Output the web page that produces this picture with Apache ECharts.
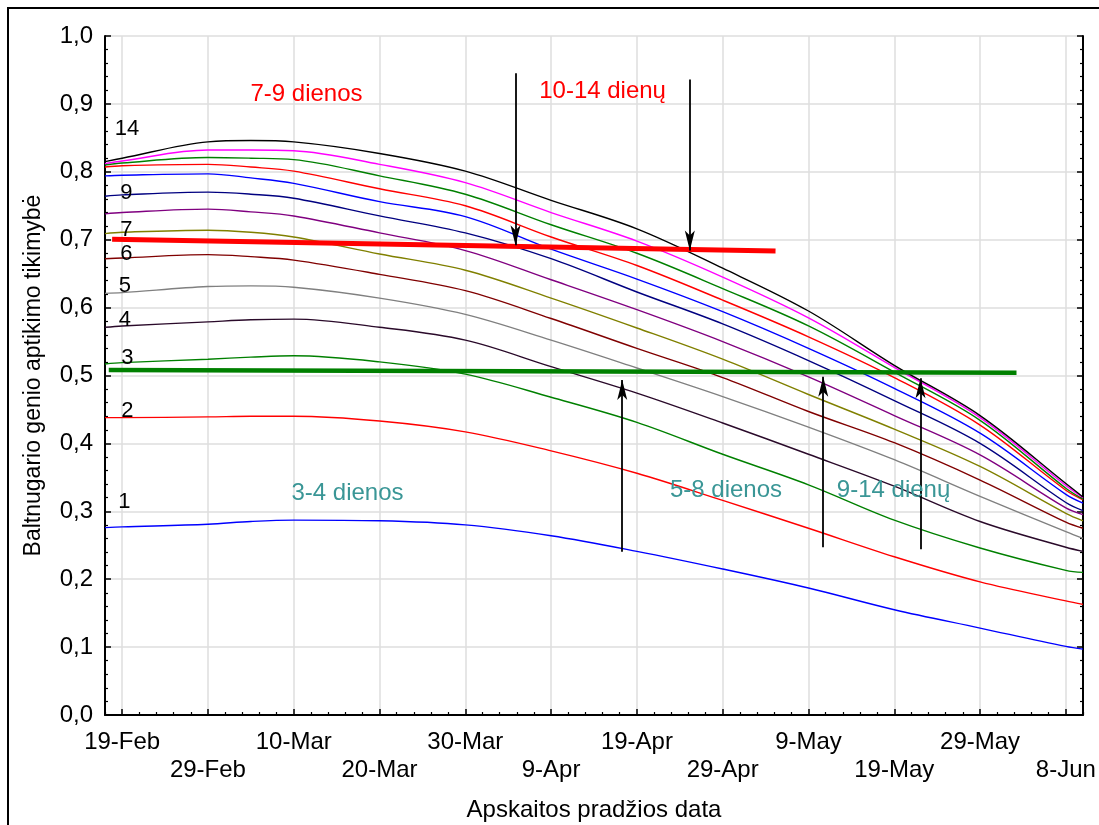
<!DOCTYPE html>
<html>
<head>
<meta charset="utf-8">
<style>
  html, body { margin: 0; padding: 0; background: #ffffff; }
  #chart { width: 1099px; height: 825px; }
</style>
<script src="https://cdn.jsdelivr.net/npm/echarts@6/dist/echarts.min.js"></script>
</head>
<body>
<div id="chart"></div>
<script>
// ---- data -------------------------------------------------------------
// Dates at which every curve is sampled
const sampleDates = ['2008-02-17', '2008-02-19', '2008-02-29', '2008-03-05', '2008-03-10',
  '2008-03-20', '2008-03-30', '2008-04-09', '2008-04-19', '2008-04-29', '2008-05-09',
  '2008-05-19', '2008-05-29', '2008-06-08', '2008-06-10'];

// Detection probability for survey lengths of 1 ... 14 days
const days1  = [0.276, 0.277, 0.281, 0.285, 0.287, 0.286, 0.280, 0.264, 0.241, 0.215, 0.187, 0.155, 0.128, 0.101, 0.097];
const days2  = [0.438, 0.438, 0.439, 0.440, 0.440, 0.433, 0.417, 0.389, 0.356, 0.316, 0.275, 0.233, 0.196, 0.168, 0.163];
const days3  = [0.517, 0.519, 0.524, 0.527, 0.529, 0.520, 0.502, 0.468, 0.431, 0.384, 0.339, 0.287, 0.246, 0.213, 0.210];
const days4  = [0.571, 0.573, 0.579, 0.582, 0.583, 0.571, 0.552, 0.513, 0.474, 0.430, 0.384, 0.337, 0.285, 0.247, 0.241];
const days5  = [0.621, 0.622, 0.631, 0.632, 0.630, 0.614, 0.590, 0.552, 0.511, 0.469, 0.424, 0.376, 0.322, 0.270, 0.260];
const days6  = [0.672, 0.673, 0.678, 0.675, 0.670, 0.649, 0.625, 0.584, 0.540, 0.497, 0.447, 0.401, 0.346, 0.284, 0.275];
const days7  = [0.709, 0.711, 0.714, 0.711, 0.704, 0.679, 0.655, 0.614, 0.570, 0.524, 0.472, 0.421, 0.366, 0.297, 0.286];
const days8  = [0.738, 0.740, 0.745, 0.741, 0.735, 0.710, 0.684, 0.641, 0.597, 0.550, 0.498, 0.441, 0.383, 0.305, 0.295];
const days9  = [0.764, 0.766, 0.770, 0.767, 0.761, 0.735, 0.710, 0.672, 0.623, 0.576, 0.522, 0.463, 0.400, 0.313, 0.301];
const days10 = [0.794, 0.795, 0.797, 0.791, 0.783, 0.756, 0.734, 0.686, 0.642, 0.594, 0.540, 0.481, 0.415, 0.325, 0.312];
const days11 = [0.807, 0.809, 0.811, 0.807, 0.801, 0.775, 0.750, 0.704, 0.662, 0.611, 0.557, 0.497, 0.427, 0.331, 0.317];
const days12 = [0.810, 0.813, 0.821, 0.820, 0.818, 0.794, 0.767, 0.722, 0.680, 0.628, 0.573, 0.505, 0.434, 0.334, 0.318];
const days13 = [0.812, 0.816, 0.832, 0.832, 0.831, 0.811, 0.784, 0.740, 0.698, 0.645, 0.585, 0.512, 0.438, 0.338, 0.320];
const days14 = [0.815, 0.820, 0.844, 0.846, 0.844, 0.827, 0.801, 0.758, 0.716, 0.658, 0.595, 0.515, 0.441, 0.341, 0.321];

// Threshold lines: [day offset from 19-Feb, probability] at both ends
const threshold70 = [[-1.17, 0.7006], [76.16, 0.6834]];
const threshold50 = [[-1.56, 0.5080], [104.25, 0.5042]];

// Arrows: start and tip, [day offset from 19-Feb, probability]
const arrowsDown = [
  [[45.85, 0.945], [45.85, 0.692]],
  [[66.17, 0.936], [66.17, 0.684]]
];
const arrowsUp = [
  [[58.29, 0.2405], [58.29, 0.4934]],
  [[81.72, 0.247], [81.72, 0.4983]],
  [[93.06, 0.244], [93.06, 0.4960]]
];

// Axis tick labels, every 10 days from 19-Feb
const tickLabels = ['19-Feb', '29-Feb', '10-Mar', '20-Mar', '30-Mar', '9-Apr',
  '19-Apr', '29-Apr', '9-May', '19-May', '29-May', '8-Jun'];

// Period notes and curve numbers: [day offset, probability, text]
const periodNotes = [
  [21.49, 0.9138, '7-9 dienos'],
  [56.0, 0.9185, '10-14 dienų']
];
const periodNotesLow = [
  [26.27, 0.3265, '3-4 dienos'],
  [70.39, 0.3314, '5-8 dienos'],
  [89.92, 0.3306, '9-14 dienų']
];
const curveTags = [
  [0.55, 0.863, '14'], [0.50, 0.7688, '9'], [0.50, 0.715, '7'], [0.50, 0.679, '6'],
  [0.33, 0.6323, '5'], [0.33, 0.5817, '4'], [0.62, 0.5258, '3'], [0.62, 0.4485, '2'],
  [0.27, 0.3144, '1']
];

// ---- drawing ---------------------------------------------------------
const curves = [days1, days2, days3, days4, days5, days6, days7, days8, days9, days10, days11, days12, days13, days14];
const curveColors = ['#0000ff', '#ff0000', '#008000', '#2a0a2a', '#808080', '#800000', '#808000',
  '#800080', '#000080', '#0000ff', '#ff0000', '#008000', '#ff00ff', '#000000'];

const DAY = 86400000;
const t0 = Date.parse('2008-02-19');
const toDay = s => (Date.parse(s) - t0) / DAY;
const xs = sampleDates.map(toDay);

const FONT = '"Liberation Sans", Arial, Helvetica, sans-serif';
const majorDays = tickLabels.map((_, i) => i * 10);
const minorDays = [];
for (let d = -2; d <= 112; d += 2) { if (d % 10 !== 0) minorDays.push(d); }

const GRID_COLOR = '#dedede';

const series = [];
curves.forEach((vals, i) => {
  series.push({
    type: 'line', name: String(i + 1), silent: true,
    data: xs.map((x, j) => [x, vals[j]]),
    smooth: 0.35, symbol: 'none',
    lineStyle: { color: curveColors[i], width: 1.4 },
    z: 2
  });
});

series.push({
  type: 'line', silent: true, symbol: 'none', data: threshold70,
  lineStyle: { color: '#ff0000', width: 5 }, z: 4
});
series.push({
  type: 'line', silent: true, symbol: 'none', data: threshold50,
  lineStyle: { color: '#008000', width: 4.5 }, z: 4
});

// arrow shafts
series.push({
  type: 'lines', coordinateSystem: 'cartesian2d', silent: true, z: 5,
  lineStyle: { color: '#000', width: 1.8, opacity: 1 },
  data: arrowsDown.concat(arrowsUp).map(a => ({ coords: [a[0], a[1]] }))
});

// arrow heads, tip placed exactly on the end point
const headUp = 'path://M5,0 L10,20 L5,15 L0,20 Z';
const headDown = 'path://M0,0 L5,5 L10,0 L5,20 Z';
series.push({
  type: 'scatter', silent: true, z: 6,
  itemStyle: { color: '#000', opacity: 1 },
  data: arrowsDown.map(a => ({ value: a[1], symbol: headDown, symbolSize: [10, 20], symbolOffset: [0, -10] }))
    .concat(arrowsUp.map(a => ({ value: a[1], symbol: headUp, symbolSize: [10, 20], symbolOffset: [0, 10] })))
});

function textSeries(items, color, size) {
  return {
    type: 'scatter', silent: true, z: 7,
    symbolSize: 1, itemStyle: { color: 'rgba(0,0,0,0)', opacity: 1 },
    data: items.map(t => ({ value: [t[0], t[1]], name: t[2] })),
    label: {
      show: true, position: 'inside', formatter: p => p.name, opacity: 1,
      color: color, fontSize: size, fontFamily: FONT,
      align: 'center', verticalAlign: 'middle'
    }
  };
}
series.push(textSeries(periodNotes, '#ff0000', 24));
series.push(textSeries(periodNotesLow, '#3a9696', 24));
series.push(textSeries(curveTags, '#000000', 22));

const option = {
  animation: false,
  backgroundColor: '#ffffff',
  textStyle: { fontFamily: FONT },
  grid: { left: 105, right: 16, top: 36, bottom: 110, containLabel: false, outerBoundsMode: 'none' },
  xAxis: [
    {
      type: 'value', min: -2, max: 112, position: 'bottom',
      axisLine: { show: true, onZero: false, lineStyle: { color: '#000', width: 2 } },
      axisTick: { show: true, inside: true, length: 6, customValues: majorDays, lineStyle: { color: '#000', width: 1.5 } },
      axisLabel: {
        show: true, customValues: majorDays, margin: 13,
        fontSize: 24, lineHeight: 28, color: '#000', fontFamily: FONT,
        formatter: v => {
          const i = Math.round(v / 10);
          return i % 2 ? '\n' + tickLabels[i] : tickLabels[i];
        }
      },
      splitLine: { show: true, lineStyle: { color: GRID_COLOR, width: 1.5 } },
      name: 'Apskaitos pradžios data', nameLocation: 'middle', nameGap: 83,
      nameTextStyle: { fontSize: 24, color: '#000', fontFamily: FONT }
    },
    {
      type: 'value', min: -2, max: 112, position: 'bottom',
      axisLine: { show: false, onZero: false },
      axisTick: { show: true, inside: true, length: 3, customValues: minorDays, lineStyle: { color: '#000', width: 1.2 } },
      axisLabel: { show: false },
      splitLine: { show: false }
    }
  ],
  yAxis: [
    {
      type: 'value', min: 0, max: 1, interval: 0.1, position: 'left',
      axisLine: { show: true, onZero: false, lineStyle: { color: '#000', width: 2 } },
      axisTick: { show: true, inside: true, length: 6, lineStyle: { color: '#000', width: 1.5 } },
      minorTick: { show: true, splitNumber: 5, length: 3, lineStyle: { color: '#000', width: 1.2 } },
      axisLabel: {
        margin: 12, fontSize: 24, color: '#000', fontFamily: FONT,
        formatter: v => v.toFixed(1).replace('.', ',')
      },
      splitLine: { show: true, lineStyle: { color: GRID_COLOR, width: 1.5 } },
      name: 'Baltnugario genio aptikimo tikimybė', nameLocation: 'middle', nameGap: 60,
      nameTextStyle: { fontSize: 23, color: '#000', fontFamily: FONT }
    },
    {
      type: 'value', min: 0, max: 1, interval: 0.1, position: 'right',
      axisLine: { show: true, onZero: false, lineStyle: { color: '#000', width: 2 } },
      axisTick: { show: true, inside: true, length: 6, lineStyle: { color: '#000', width: 1.5 } },
      minorTick: { show: true, splitNumber: 5, length: 3, lineStyle: { color: '#000', width: 1.2 } },
      axisLabel: { show: false },
      splitLine: { show: false }
    }
  ],
  graphic: [
    {
      type: 'rect', silent: true, z: 100,
      shape: { x: 8, y: 8, width: 1200, height: 1000 },
      style: { fill: 'none', stroke: '#000', lineWidth: 2 }
    }
  ],
  series: series
};

const chart = echarts.init(document.getElementById('chart'), null, { renderer: 'canvas' });
chart.setOption(option);
</script>
</body>
</html>
